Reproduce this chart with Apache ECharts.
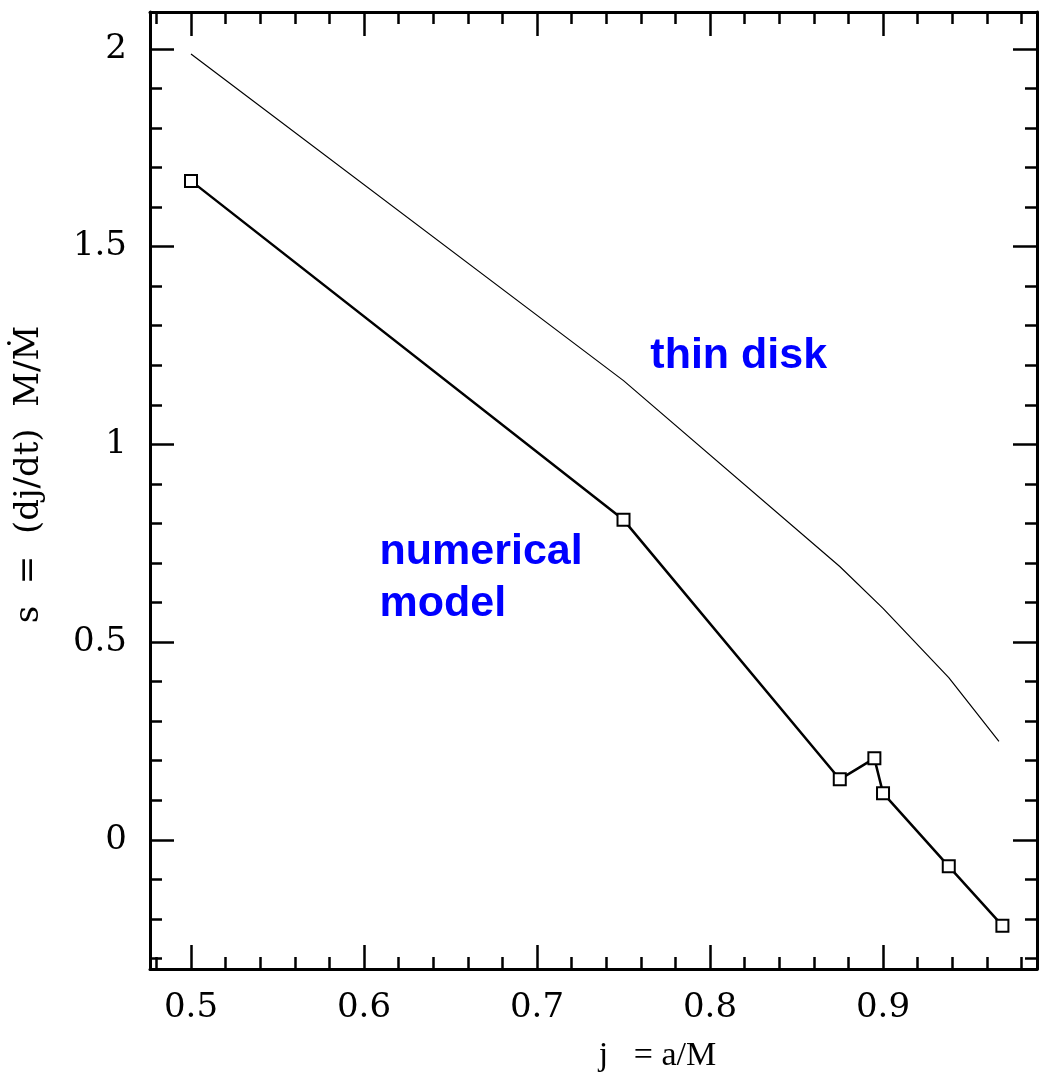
<!DOCTYPE html>
<html>
<head>
<meta charset="utf-8">
<script src="https://cdn.jsdelivr.net/npm/echarts@6/dist/echarts.min.js"></script>
<style>
  html, body { margin: 0; padding: 0; background: #fff; }
  #main { width: 1039px; height: 1078px; }
</style>
</head>
<body>
<div id="main"></div>
<script>
// data
const spinX = [0.5, 0.75, 0.875, 0.895, 0.9, 0.938, 0.969];
const numericalS = [1.666, 0.809, 0.153, 0.206, 0.118, -0.067, -0.217];
const thinDiskX = [0.5, 0.75, 0.875, 0.9, 0.938, 0.967];
const thinDiskS = [1.987, 1.161, 0.691, 0.585, 0.41, 0.249];

const xMajor = [0.5, 0.6, 0.7, 0.8, 0.9];
const xMinor = [0.48, 0.52, 0.54, 0.56, 0.58, 0.62, 0.64, 0.66, 0.68, 0.72, 0.74, 0.76, 0.78, 0.82, 0.84, 0.86, 0.88, 0.92, 0.94, 0.96, 0.98];
const yMajor = [0, 0.5, 1, 1.5, 2];
const yMinor = [-0.3, -0.2, -0.1, 0.1, 0.2, 0.3, 0.4, 0.6, 0.7, 0.8, 0.9, 1.1, 1.2, 1.3, 1.4, 1.6, 1.7, 1.8, 1.9];

// annotation anchors in data units: [x, y of text bottom]
const notes = [
  { text: 'thin disk', at: [0.7655, 1.168] },
  { text: 'numerical', at: [0.609, 0.672] },
  { text: 'model', at: [0.609, 0.541] }
];

const X_MIN = 0.4763, X_MAX = 0.989;
const Y_MIN = -0.3266, Y_MAX = 2.093;

const lineStyle = { color: '#000', width: 3 };
const serif = '"DejaVu Serif", serif';

function xAx(pos, ticks, len, opts) {
  return Object.assign({
    type: 'value', position: pos, min: X_MIN, max: X_MAX,
    axisLine: { show: false, onZero: false },
    axisTick: { show: true, inside: true, length: len, customValues: ticks, lineStyle: { color: '#000', width: 2.5 } },
    axisLabel: { show: false },
    splitLine: { show: false }
  }, opts || {});
}
function yAx(pos, ticks, len, opts) {
  return Object.assign({
    type: 'value', position: pos, min: Y_MIN, max: Y_MAX,
    axisLine: { show: false, onZero: false },
    axisTick: { show: true, inside: true, length: len, customValues: ticks, lineStyle: { color: '#000', width: 2.5 } },
    axisLabel: { show: false },
    splitLine: { show: false }
  }, opts || {});
}

const myChart = echarts.init(document.getElementById('main'));
myChart.setOption({
  animation: false,
  backgroundColor: '#fff',
  grid: { left: 150, right: 2, top: 12, bottom: 103, containLabel: false },
  xAxis: [
    xAx('bottom', xMajor, 24, {
      axisLine: { show: true, onZero: false, lineStyle: lineStyle },
      axisLabel: { show: true, customValues: xMajor, margin: 22, color: '#000', fontFamily: serif, fontSize: 34 },
      name: 'j   = a/M',
      nameLocation: 'middle',
      nameGap: 70,
      nameTextStyle: { color: '#000', fontFamily: 'Liberation Serif', fontSize: 34, padding: [0, 0, 0, 128] }
    }),
    xAx('bottom', xMinor, 12),
    xAx('top', xMajor, 24, { axisLine: { show: true, onZero: false, lineStyle: lineStyle } }),
    xAx('top', xMinor, 12)
  ],
  yAxis: [
    yAx('left', yMajor, 24, {
      axisLine: { show: true, onZero: false, lineStyle: lineStyle },
      axisLabel: { show: true, customValues: yMajor, margin: 23, color: '#000', fontFamily: serif, fontSize: 34 },
      name: 's  =  (dj/dt)  M/Ṁ',
      nameLocation: 'middle',
      nameRotate: 90,
      nameGap: 104,
      nameTextStyle: { color: '#000', fontFamily: serif, fontSize: 34, padding: [0, 0, 0, 32] }
    }),
    yAx('left', yMinor, 12),
    yAx('right', yMajor, 24, { axisLine: { show: true, onZero: false, lineStyle: lineStyle } }),
    yAx('right', yMinor, 12)
  ],
  series: [
    {
      name: 'thin disk',
      type: 'line',
      data: thinDiskX.map((x, i) => [x, thinDiskS[i]]),
      showSymbol: false,
      lineStyle: { color: '#000', width: 1.2 },
      z: 3
    },
    {
      name: 'numerical model',
      type: 'line',
      data: spinX.map((x, i) => [x, numericalS[i]]),
      symbol: 'rect',
      symbolSize: 12,
      lineStyle: { color: '#000', width: 2.5 },
      itemStyle: { color: '#fff', borderColor: '#000', borderWidth: 2 },
      z: 4
    }
  ]
});

// place the blue annotations through the axes' own scale
myChart.setOption({
  graphic: notes.map(n => {
    const p = myChart.convertToPixel({ xAxisIndex: 0, yAxisIndex: 0 }, n.at);
    return {
      type: 'text',
      x: p[0],
      y: p[1],
      style: {
        text: n.text,
        fill: '#0000ff',
        font: 'bold 43px "Liberation Sans", Arial, sans-serif',
        textAlign: 'left',
        textVerticalAlign: 'bottom'
      }
    };
  })
});
</script>
</body>
</html>
